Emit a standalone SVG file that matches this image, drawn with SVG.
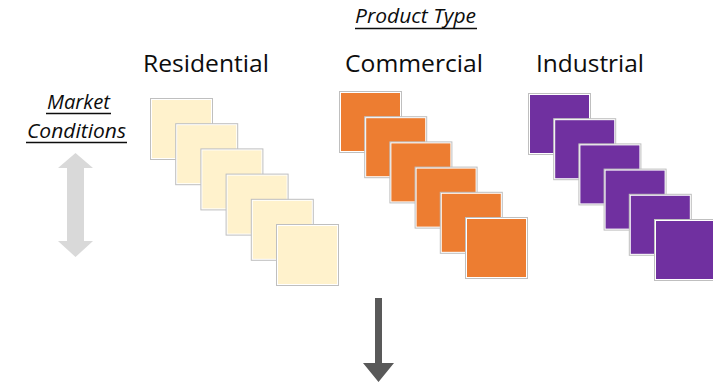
<svg xmlns="http://www.w3.org/2000/svg" xmlns:xlink="http://www.w3.org/1999/xlink" width="713" height="383" viewBox="0 0 713 383">
  <style>
    .lbl { font-family: "Open Sans", "Noto Sans", "Liberation Sans", sans-serif; font-size: 24px; fill: #0d0d0d; }
    .ital { font-family: "Open Sans", "Noto Sans", "Liberation Sans", sans-serif; font-size: 20px; font-style: italic; fill: #0d0d0d; }
    .ul { stroke: #0d0d0d; stroke-width: 1.5; }
    .frame { fill: #ffffff; stroke: #BFBFBF; stroke-width: 1; }
    .res { fill: #FFF2CC; }
    .com { fill: #ED7D31; }
    .ind { fill: #7030A0; }
  </style>
  <defs>
    <rect id="frm" x="0.5" y="0.5" width="62" height="61" class="frame"/>
  </defs>
  <rect width="713" height="383" fill="#ffffff"/>

  <g id="product-type">
    <text class="ital" x="355" y="23" textLength="121" lengthAdjust="spacingAndGlyphs">Product Type</text>
    <line class="ul" x1="355" y1="28.5" x2="477" y2="28.5"/>
  </g>

  <g id="market-conditions">
    <text class="ital" x="47" y="109" textLength="63" lengthAdjust="spacingAndGlyphs">Market</text>
    <line class="ul" x1="46" y1="113.5" x2="111" y2="113.5"/>
    <text class="ital" x="27" y="138" textLength="99" lengthAdjust="spacingAndGlyphs">Conditions</text>
    <line class="ul" x1="26" y1="142.5" x2="127" y2="142.5"/>
  </g>

  <g id="residential">
    <text class="lbl" x="143" y="72" textLength="126" lengthAdjust="spacingAndGlyphs">Residential</text>
    <g transform="translate(150,98)"><use xlink:href="#frm"/><rect class="res" x="2" y="2" width="59" height="58"/></g>
    <g transform="translate(175.2,123.2)"><use xlink:href="#frm"/><rect class="res" x="2" y="2" width="59" height="58"/></g>
    <g transform="translate(200.4,148.4)"><use xlink:href="#frm"/><rect class="res" x="2" y="2" width="59" height="58"/></g>
    <g transform="translate(225.6,173.6)"><use xlink:href="#frm"/><rect class="res" x="2" y="2" width="59" height="58"/></g>
    <g transform="translate(250.8,198.8)"><use xlink:href="#frm"/><rect class="res" x="2" y="2" width="59" height="58"/></g>
    <g transform="translate(276,224)"><use xlink:href="#frm"/><rect class="res" x="2" y="2" width="59" height="58"/></g>
  </g>

  <g id="commercial">
    <text class="lbl" x="345" y="72" textLength="138" lengthAdjust="spacingAndGlyphs">Commercial</text>
    <g transform="translate(339,91)"><use xlink:href="#frm"/><rect class="com" x="2" y="2" width="59" height="58"/></g>
    <g transform="translate(364.2,116.2)"><use xlink:href="#frm"/><rect class="com" x="2" y="2" width="59" height="58"/></g>
    <g transform="translate(389.4,141.4)"><use xlink:href="#frm"/><rect class="com" x="2" y="2" width="59" height="58"/></g>
    <g transform="translate(414.6,166.6)"><use xlink:href="#frm"/><rect class="com" x="2" y="2" width="59" height="58"/></g>
    <g transform="translate(439.8,191.8)"><use xlink:href="#frm"/><rect class="com" x="2" y="2" width="59" height="58"/></g>
    <g transform="translate(465,217)"><use xlink:href="#frm"/><rect class="com" x="2" y="2" width="59" height="58"/></g>
  </g>

  <g id="industrial">
    <text class="lbl" x="536" y="72" textLength="108" lengthAdjust="spacingAndGlyphs">Industrial</text>
    <g transform="translate(528,93)"><use xlink:href="#frm"/><rect class="ind" x="2" y="2" width="59" height="58"/></g>
    <g transform="translate(553.2,118.2)"><use xlink:href="#frm"/><rect class="ind" x="2" y="2" width="59" height="58"/></g>
    <g transform="translate(578.4,143.4)"><use xlink:href="#frm"/><rect class="ind" x="2" y="2" width="59" height="58"/></g>
    <g transform="translate(603.6,168.6)"><use xlink:href="#frm"/><rect class="ind" x="2" y="2" width="59" height="58"/></g>
    <g transform="translate(628.8,193.8)"><use xlink:href="#frm"/><rect class="ind" x="2" y="2" width="59" height="58"/></g>
    <g transform="translate(654,219)"><use xlink:href="#frm"/><rect class="ind" x="2" y="2" width="59" height="58"/></g>
  </g>

  <g id="connectors">
    <polygon id="market-arrow" fill="#D9D9D9" points="75.5,153 93,168 84,168 84,241 93,241 75.5,257 58,241 67,241 67,168 58,168"/>
    <polygon id="down-arrow" fill="#595959" points="375,298 382,298 382,363 394,363 378.5,382 363,363 375,363"/>
  </g>
</svg>
